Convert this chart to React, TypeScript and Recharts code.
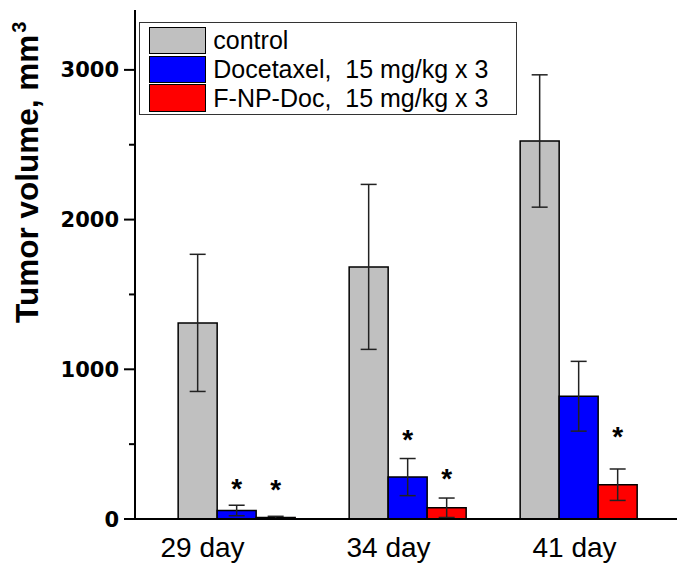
import { BarChart, Bar, XAxis, YAxis, ErrorBar, LabelList, Legend } from "recharts";

const days = ["29 day", "34 day", "41 day"];
const controlMean = [1310, 1684, 2525];
const controlErr = [458, 551, 442];
const docMean = [57, 280, 820];
const docErr = [35, 124, 233];
const fnpMean = [10, 75, 229];
const fnpErr = [8, 65, 105];
// heights (mm3) where the significance asterisks sit
const docStar = [250, 573, null];
const fnpStar = [242, 317, 595];
const yTicks = [0, 500, 1000, 1500, 2000, 2500, 3000];
const seriesNames = ["control", "Docetaxel,  15 mg/kg x 3", "F-NP-Doc,  15 mg/kg x 3"];
const seriesColors = ["#c0c0c0", "#0000ff", "#ff0000"];

const rows = days.map((day, i) => ({
  day,
  control: controlMean[i],
  controlErr: controlErr[i],
  doc: docMean[i],
  docErr: docErr[i],
  docStar: docStar[i],
  fnp: fnpMean[i],
  fnpErr: fnpErr[i],
  fnpStar: fnpStar[i],
}));

const FONT = "'Liberation Sans', Arial, sans-serif";

const YTick = (props: any) => {
  const { x, y, payload } = props;
  const major = payload.value % 1000 === 0;
  return (
    <g>
      <line x1={x - (major ? 11 : 6)} x2={x} y1={y} y2={y} stroke="#000" strokeWidth={2} />
      {major && (
        <text x={x - 16} y={y} dy="0.36em" textAnchor="end" fontSize={21} fontWeight="bold"
          fontFamily="'DejaVu Sans', sans-serif" fill="#000">
          {payload.value}
        </text>
      )}
    </g>
  );
};

const starLabel = (meanKey: string) => (props: any) => {
  const { value, index } = props;
  if (value == null) return null;
  const vb = props.viewBox ?? props;
  const { x, y, width, height } = vb;
  const v = (rows as any)[index][meanKey];
  const base = y + height;
  const py = base - (value / v) * height;
  return (
    <text x={x + width / 2} y={py + 16} textAnchor="middle" fontSize={28} fontWeight="bold"
      fontFamily={FONT} fill="#000">
      *
    </text>
  );
};

const yLabel = (props: any) => {
  const vb = props.viewBox;
  const bx = vb.x + 30;
  const by = vb.y + 313;
  return (
    <text x={bx} y={by} transform={`rotate(-90 ${bx} ${by})`} fontSize={31.5} fontWeight="bold"
      fontFamily={FONT} fill="#000">
      Tumor volume, mm
      <tspan fontSize={20} dx={2} dy={-12}>3</tspan>
    </text>
  );
};

const legendBox = () => (
  <div style={{
    boxSizing: "border-box", width: 378, height: 93, border: "1.5px solid #333",
    padding: "3px 0 0 9px", fontFamily: FONT, fontSize: 25, color: "#000", background: "#fff",
  }}>
    {seriesNames.map((n, i) => (
      <div key={n} style={{ display: "flex", alignItems: "center", height: 28.7 }}>
        <div style={{
          boxSizing: "border-box", width: 57, height: 27.5, background: seriesColors[i],
          border: "1.5px solid #000",
        }} />
        <span style={{ marginLeft: 7, whiteSpace: "pre", lineHeight: 1 }}>{n}</span>
      </div>
    ))}
  </div>
);

export default function App() {
  return (
    <BarChart width={677} height={561} data={rows} margin={{ top: 2, right: 2, bottom: 0, left: 0 }}
      barCategoryGap="16%" barGap={0}>
      <XAxis xAxisId="bars" dataKey="day" hide height={0} padding={{ left: 15.8, right: 19.2 }} />
      <XAxis xAxisId="lbl" dataKey="day" type="category" scale="point" height={50}
        padding={{ left: 67.5, right: 108.5 }} tickLine={false} tickSize={0} tickMargin={18}
        axisLine={{ stroke: "#000", strokeWidth: 2 }}
        tick={{ fontSize: 28, fill: "#000", fontFamily: FONT }} />
      <YAxis width={127} domain={[0, 3400]} ticks={yTicks} interval={0} tickLine={false}
        tickSize={0} tickMargin={0} tick={<YTick />} axisLine={{ stroke: "#000", strokeWidth: 2 }}
        label={{ content: yLabel }} />
      <Legend layout="vertical" align="center" verticalAlign="middle" content={legendBox}
        wrapperStyle={{ left: 131.3, top: 14.3, width: "auto", height: "auto" }} />
      <Bar xAxisId="bars" dataKey="control" name={seriesNames[0]} fill={seriesColors[0]} stroke="#000"
        strokeWidth={1.5} isAnimationActive={false}>
        <ErrorBar dataKey="controlErr" width={8} stroke="#222" strokeWidth={1.5} direction="y" />
      </Bar>
      <Bar xAxisId="bars" dataKey="doc" name={seriesNames[1]} fill={seriesColors[1]} stroke="#000"
        strokeWidth={1.5} isAnimationActive={false}>
        <ErrorBar dataKey="docErr" width={8} stroke="#222" strokeWidth={1.5} direction="y" />
        <LabelList dataKey="docStar" content={starLabel("doc")} />
      </Bar>
      <Bar xAxisId="bars" dataKey="fnp" name={seriesNames[2]} fill={seriesColors[2]} stroke="#000"
        strokeWidth={1.5} isAnimationActive={false}>
        <ErrorBar dataKey="fnpErr" width={8} stroke="#222" strokeWidth={1.5} direction="y" />
        <LabelList dataKey="fnpStar" content={starLabel("fnp")} />
      </Bar>
    </BarChart>
  );
}
